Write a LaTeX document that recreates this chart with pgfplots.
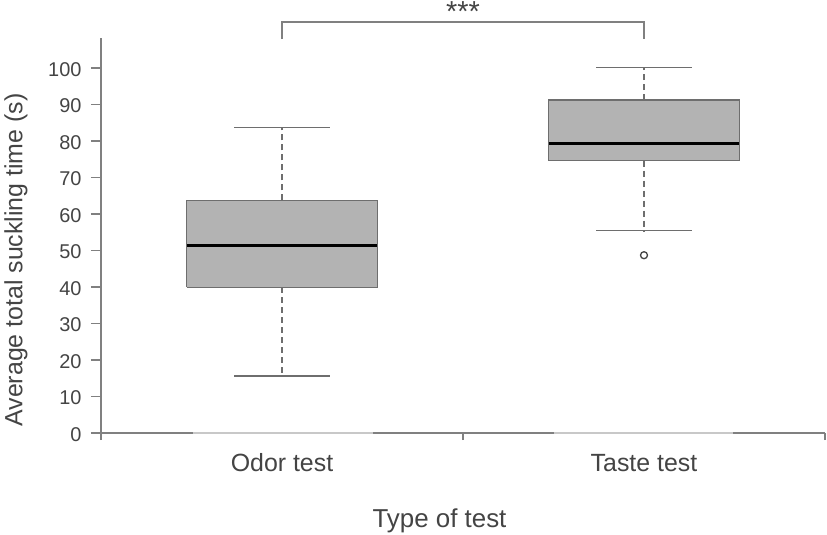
\documentclass[border=0pt]{standalone}
\usepackage{fontspec}
\setmainfont{Liberation Sans}
\usepackage{pgfplots}
\pgfplotsset{compat=1.18}
\definecolor{txt}{HTML}{444444}
\definecolor{axisgray}{HTML}{808080}
\definecolor{axislight}{HTML}{C8C8C8}
\definecolor{boxfill}{HTML}{B3B3B3}
\definecolor{boxedge}{HTML}{6E6E6E}
\begin{document}
\begin{tikzpicture}
\begin{axis}[
  at={(0,0)}, anchor=south west,
  scale only axis,
  width=724bp, height=395bp,
  xmin=0.5, xmax=2.5,
  ymin=0, ymax=108.2,
  clip=false,
  axis x line*=bottom,
  axis y line*=left,
  axis line style={draw=axisgray, line width=1.2bp},
  tick align=outside,
  tick style={draw=axisgray, line width=1.2bp},
  major tick length=10bp,
  minor tick length=7bp,
  ytick={0,10,...,100},
  xtick={1,2},
  xticklabels={Odor test, Taste test},
  minor xtick={0.5,1.5,2.5},
  major x tick style={draw=none},
  xticklabel style={anchor=base, yshift=-28bp,
    font=\fontsize{25}{30}\selectfont, text=txt},
  /pgf/number format/assume math mode=true,
  yticklabel style={font=\fontsize{20}{24}\selectfont, text=txt,
    xshift=-6bp, yshift=-1.5bp},
  ylabel={Average total suckling time (s)},
  ylabel style={at={(axis description cs:-0.1174,0.438)}, anchor=center,
    font=\fontsize{25}{30}\selectfont, text=txt},
  xlabel={Type of test},
  xlabel style={at={(axis description cs:0.4675,-0.238)}, anchor=base,
    font=\fontsize{26}{31}\selectfont, text=txt},
]
% boxes (lower quartile to upper quartile)
\addplot[draw=boxedge, fill=boxfill, line width=1.2bp]
  coordinates {(0.737,39.9)(1.263,39.9)(1.263,63.7)(0.737,63.7)(0.737,39.9)};
\addplot[draw=boxedge, fill=boxfill, line width=1.2bp]
  coordinates {(1.737,74.6)(2.263,74.6)(2.263,91.2)(1.737,91.2)(1.737,74.6)};
% medians
\addplot[black, line width=3bp] coordinates {(0.737,51.3)(1.263,51.3)};
\addplot[black, line width=3bp] coordinates {(1.737,79.4)(2.263,79.4)};
% dashed whiskers
\addplot[draw=boxedge, line width=1.2bp, dash pattern=on 6bp off 4bp] coordinates {(1,39.9)(1,15.6)};
\addplot[draw=boxedge, line width=1.2bp, dash pattern=on 6bp off 4bp] coordinates {(1,63.7)(1,83.6)};
\addplot[draw=boxedge, line width=1.2bp, dash pattern=on 6bp off 4bp] coordinates {(2,74.6)(2,55.4)};
\addplot[draw=boxedge, line width=1.2bp, dash pattern=on 6bp off 4bp] coordinates {(2,91.2)(2,100.2)};
% whisker caps
\addplot[draw=boxedge, line width=1.2bp] coordinates {(0.8685,15.6)(1.1315,15.6)};
\addplot[draw=boxedge, line width=1.2bp] coordinates {(0.8685,83.6)(1.1315,83.6)};
\addplot[draw=boxedge, line width=1.2bp] coordinates {(1.8685,55.4)(2.1315,55.4)};
\addplot[draw=boxedge, line width=1.2bp] coordinates {(1.8685,100.2)(2.1315,100.2)};
% outlier
\addplot[only marks, mark=o, mark size=3.5bp, mark options={draw=txt, line width=1.3bp}]
  coordinates {(2,48.7)};
% significance bracket
\addplot[draw=axisgray, line width=1.2bp] coordinates {(1,107.9)(1,112.6)(2,112.6)(2,107.9)};
\node[anchor=base, inner sep=0pt, font=\fontsize{29}{34}\selectfont, text=txt]
  at (axis cs:1.5,112.6) {***};
% lighter stretches of the x axis line
\draw[axislight, line width=1.2bp] (axis cs:0.754,0) -- (axis cs:1.251,0);
\draw[axislight, line width=1.2bp] (axis cs:1.752,0) -- (axis cs:2.246,0);
\end{axis}
\pgfresetboundingbox
\path (-101bp,-102bp) rectangle (726bp,433bp);
\end{tikzpicture}
\end{document}
